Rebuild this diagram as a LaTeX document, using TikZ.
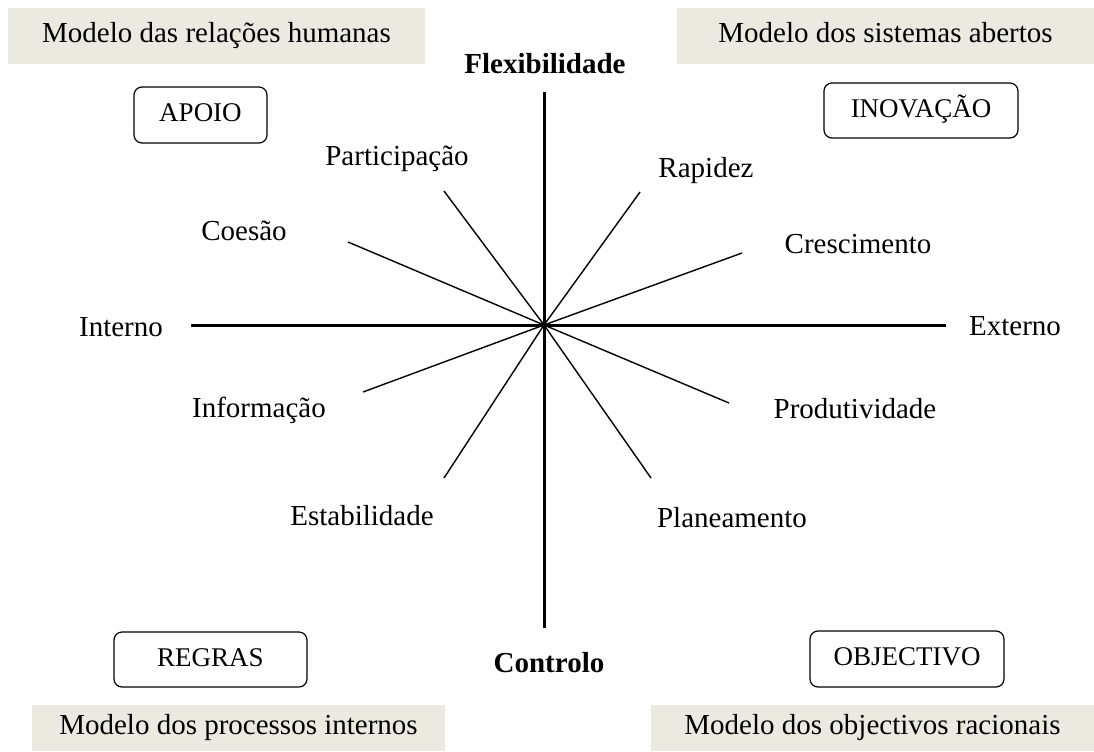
\documentclass[tikz,border=0pt]{standalone}
\usepackage{fontspec}
\setmainfont{Liberation Serif}
\definecolor{modelbg}{RGB}{236,233,224}
\begin{document}
\begin{tikzpicture}[x=0.5pt,y=-0.5pt,
  axisline/.style={line width=1.5pt},
  spoke/.style={line width=0.7pt},
  model/.style={fill=modelbg, inner sep=0pt, text height=0.68em, text depth=0pt,
                font=\fontsize{14.5}{17}\selectfont},
  valuebox/.style={draw, rounded corners=4pt, line width=0.6pt, inner sep=0pt,
                text height=0.68em, text depth=0pt, font=\fontsize{13.5}{16}\selectfont},
  lbl/.style={anchor=base, inner sep=0pt, font=\fontsize{14.5}{17}\selectfont},
  axlbl/.style={anchor=base, inner sep=0pt, font=\fontsize{14.5}{17}\selectfont\bfseries}]
\useasboundingbox (0,0) rectangle (1094,751);

% model boxes
\node[model, minimum width=208.5pt, minimum height=28pt] (mrh) at (216.5,36) {Modelo das relações humanas};
\node[model, minimum width=208.5pt, minimum height=28pt] (msa) at (885.5,36) {Modelo dos sistemas abertos};
\node[model, minimum width=206.5pt, minimum height=23pt] (mpi) at (238.5,728) {Modelo dos processos internos};
\node[model, minimum width=221.5pt, minimum height=23pt] (mor) at (872.5,728) {Modelo dos objectivos racionais};

% value boxes
\node[valuebox, minimum width=66.5pt, minimum height=28pt] (apoio) at (200.5,115) {APOIO};
\node[valuebox, minimum width=97pt, minimum height=27.5pt] (inov) at (921,110.5) {INOVAÇÃO};
\node[valuebox, minimum width=96.5pt, minimum height=27.5pt] (regras) at (210.5,659.5) {REGRAS};
\node[valuebox, minimum width=97pt, minimum height=28pt] (obj) at (907,659) {OBJECTIVO};

% axes
\coordinate (O) at (544,325);
\coordinate (top) at (544,92);
\coordinate (bot) at (544,628);
\coordinate (left) at (191,325);
\coordinate (right) at (946,325);
\draw[axisline] (top) -- (bot);
\draw[axisline] (left) -- (right);

% spokes
\coordinate (pPart) at (444,191);
\coordinate (pRap) at (640,192);
\coordinate (pCoe) at (348,242);
\coordinate (pCre) at (742,253);
\coordinate (pInf) at (363,392);
\coordinate (pPro) at (729,403);
\coordinate (pEst) at (444,478);
\coordinate (pPla) at (651,478);
\foreach \p in {pPart,pRap,pCoe,pCre,pInf,pPro,pEst,pPla}
  \draw[spoke] (O) -- (\p);

% labels
\node[axlbl] (flex) at (545,73) {Flexibilidade};
\node[axlbl] (ctrl) at (549,672) {Controlo};
\node[lbl] (int) at (121,336) {Interno};
\node[lbl] (ext) at (1015,335) {Externo};
\node[lbl] (part) at (397,165) {Participação};
\node[lbl] (rap) at (706,177) {Rapidez};
\node[lbl] (coe) at (244,240) {Coesão};
\node[lbl] (cre) at (858,253) {Crescimento};
\node[lbl] (inf) at (259,417) {Informação};
\node[lbl] (pro) at (855,418) {Produtividade};
\node[lbl] (est) at (362,525) {Estabilidade};
\node[lbl] (pla) at (732,527) {Planeamento};
\end{tikzpicture}
\end{document}
